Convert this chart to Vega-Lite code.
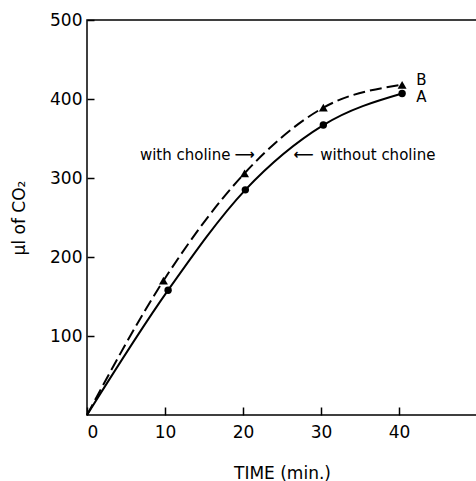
{
  "$schema": "https://vega.github.io/schema/vega-lite/v6.json",
  "width": 390,
  "height": 395,
  "autosize": {"type": "none"},
  "padding": {"left": 87, "top": 20, "right": 0, "bottom": 66},
  "background": "white",
  "config": {
    "view": {"stroke": "black", "strokeWidth": 1.5},
    "font": "DejaVu Sans",
    "axis": {
      "domain": false,
      "ticks": true,
      "tickOpacity": 1,
      "zindex": 1,
      "tickColor": "black",
      "tickWidth": 1.5,
      "labelColor": "black",
      "titleColor": "black",
      "labelFont": "DejaVu Sans",
      "titleFont": "DejaVu Sans",
      "labelFontSize": 17,
      "titleFontSize": 17,
      "titleFontWeight": "normal",
      "grid": false
    }
  },
  "datasets": {
    "curves": [
      {"series": "A", "t": 0, "co2": 0, "pt": false},
      {"series": "A", "t": 10.4, "co2": 158, "pt": true},
      {"series": "A", "t": 20.3, "co2": 285, "pt": true},
      {"series": "A", "t": 30.3, "co2": 367, "pt": true},
      {"series": "A", "t": 40.4, "co2": 407, "pt": true},
      {"series": "B", "t": 0, "co2": 0, "pt": false},
      {"series": "B", "t": 9.8, "co2": 170, "pt": true},
      {"series": "B", "t": 20.2, "co2": 306, "pt": true},
      {"series": "B", "t": 30.3, "co2": 389, "pt": true},
      {"series": "B", "t": 40.4, "co2": 418, "pt": true}
    ],
    "notes": [
      {"label": "with choline", "t": 18.4, "co2": 329, "side": "right"},
      {"label": "without choline", "t": 29.9, "co2": 329, "side": "left"},
      {"label": "B", "t": 42.2, "co2": 424, "side": "left"},
      {"label": "A", "t": 42.2, "co2": 402, "side": "left"}
    ],
    "arrows": [
      {"label": "⟶", "t": 20.2, "co2": 329},
      {"label": "⟵", "t": 27.8, "co2": 329}
    ]
  },
  "layer": [
    {
      "data": {"name": "curves"},
      "transform": [{"filter": "datum.series == 'A'"}],
      "mark": {"type": "line", "interpolate": "monotone", "color": "black", "strokeWidth": 2},
      "encoding": {
        "x": {"field": "t", "type": "quantitative", "scale": {"domain": [0, 50], "nice": false},
              "axis": {"values": [0, 10, 20, 30, 40], "title": "TIME (min.)", "ticks": true, "tickSize": 8, "offset": -8, "labelPadding": 9, "titlePadding": 25}},
        "y": {"field": "co2", "type": "quantitative", "scale": {"domain": [0, 500], "nice": false},
              "axis": {"values": [100, 200, 300, 400, 500], "title": "μl of CO₂", "ticks": true, "tickSize": 7, "offset": -7, "labelPadding": 5, "titlePadding": 21}},
        "order": {"field": "t", "type": "quantitative"}
      }
    },
    {
      "data": {"name": "curves"},
      "transform": [{"filter": "datum.series == 'B'"}],
      "mark": {"type": "line", "interpolate": "monotone", "color": "black", "strokeWidth": 2, "strokeDash": [12, 5]},
      "encoding": {
        "x": {"field": "t", "type": "quantitative"},
        "y": {"field": "co2", "type": "quantitative"},
        "order": {"field": "t", "type": "quantitative"}
      }
    },
    {
      "data": {"name": "curves"},
      "transform": [{"filter": "datum.pt && datum.series == 'A'"}],
      "mark": {"type": "point", "shape": "circle", "filled": true, "color": "black", "size": 55, "opacity": 1},
      "encoding": {
        "x": {"field": "t", "type": "quantitative"},
        "y": {"field": "co2", "type": "quantitative"}
      }
    },
    {
      "data": {"name": "curves"},
      "transform": [{"filter": "datum.pt && datum.series == 'B'"}],
      "mark": {"type": "point", "shape": "triangle-up", "filled": true, "color": "black", "size": 80, "opacity": 1},
      "encoding": {
        "x": {"field": "t", "type": "quantitative"},
        "y": {"field": "co2", "type": "quantitative"}
      }
    },
    {
      "data": {"name": "notes"},
      "transform": [{"filter": "datum.side == 'right'"}],
      "mark": {"type": "text", "color": "black", "fontSize": 15, "baseline": "middle", "align": "right", "font": "DejaVu Sans"},
      "encoding": {
        "x": {"field": "t", "type": "quantitative"},
        "y": {"field": "co2", "type": "quantitative"},
        "text": {"field": "label"}
      }
    },
    {
      "data": {"name": "notes"},
      "transform": [{"filter": "datum.side == 'left'"}],
      "mark": {"type": "text", "color": "black", "fontSize": 15, "baseline": "middle", "align": "left", "font": "DejaVu Sans"},
      "encoding": {
        "x": {"field": "t", "type": "quantitative"},
        "y": {"field": "co2", "type": "quantitative"},
        "text": {"field": "label"}
      }
    },
    {
      "data": {"name": "arrows"},
      "mark": {"type": "text", "color": "black", "fontSize": 14, "fontWeight": "bold", "baseline": "middle", "align": "center", "font": "DejaVu Sans"},
      "encoding": {
        "x": {"field": "t", "type": "quantitative"},
        "y": {"field": "co2", "type": "quantitative"},
        "text": {"field": "label"}
      }
    }
  ]
}
